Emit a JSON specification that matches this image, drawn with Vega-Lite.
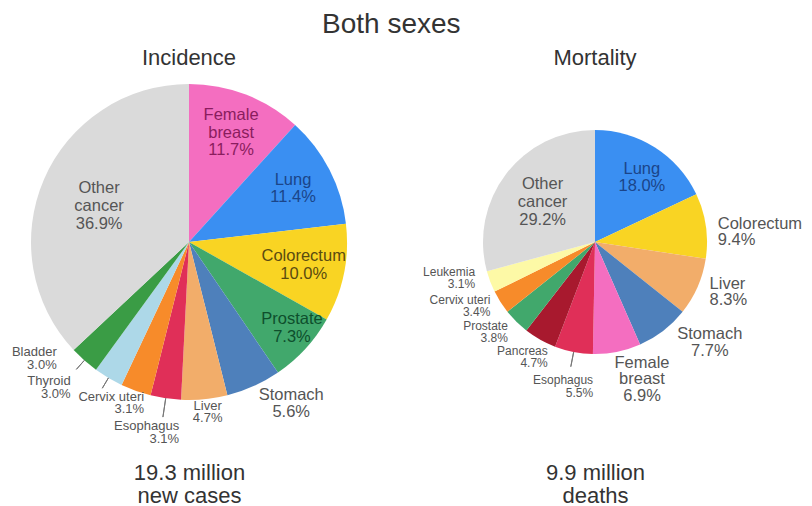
{
  "$schema": "https://vega.github.io/schema/vega-lite/v6.json",
  "padding": {"left": 0, "right": 0, "top": 11, "bottom": 0},
  "background": "white",
  "title": {"text": "Both sexes", "fontSize": 28, "fontWeight": "normal", "color": "#333333", "anchor": "start", "frame": "group", "dx": 322, "offset": 8},
  "spacing": 0,
  "bounds": "flush",
  "config": {"view": {"stroke": null}, "font": "Liberation Sans"},
  "hconcat": [
    {
      "width": 378,
      "height": 326,
      "title": {"text": "Incidence", "fontSize": 22, "fontWeight": "normal", "color": "#333333", "offset": 9},
      "data": {"values": [
        {"cancer": "Female breast", "label": "Female\nbreast", "pct": 11.7},
        {"cancer": "Lung", "label": "Lung", "pct": 11.4},
        {"cancer": "Colorectum", "label": "Colorectum", "pct": 10.0},
        {"cancer": "Prostate", "label": "Prostate", "pct": 7.3},
        {"cancer": "Stomach", "label": "Stomach", "pct": 5.6},
        {"cancer": "Liver", "label": "Liver", "pct": 4.7},
        {"cancer": "Esophagus", "label": "Esophagus", "pct": 3.1},
        {"cancer": "Cervix uteri", "label": "Cervix uteri", "pct": 3.1},
        {"cancer": "Thyroid", "label": "Thyroid", "pct": 3.0},
        {"cancer": "Bladder", "label": "Bladder", "pct": 3.0},
        {"cancer": "Other cancer", "label": "Other\ncancer", "pct": 36.9}
      ]},
      "transform": [
        {"window": [{"op": "row_number", "as": "i"}]},
        {"stack": "pct", "groupby": [], "sort": [{"field": "i", "order": "ascending"}], "as": ["t0", "t1"]},
        {"calculate": "(datum.t0 + datum.t1) / 2", "as": "mid"},
        {"calculate": "datum.label + '\\n' + format(datum.pct, '.1f') + '%'", "as": "text"}
      ],
      "layer": [
        {"mark": {"type": "arc", "outerRadius": 158},
         "encoding": {
           "theta": {"field": "pct", "type": "quantitative", "stack": true},
           "order": {"field": "i", "type": "quantitative"},
           "color": {"field": "cancer", "type": "nominal", "legend": null,
             "scale": {"domain": ["Female breast","Lung","Colorectum","Prostate","Stomach","Liver","Esophagus","Cervix uteri","Thyroid","Bladder","Pancreas","Leukemia","Other cancer"],
                       "range": ["#f46ec0","#3a8ff2","#f9d423","#41a86c","#4e80bb","#f2ad6a","#e02f58","#f78b2a","#add8e8","#3a9c45","#a8192e","#fdf9a6","#dadada"]}}}},
        {"transform": [{"filter": {"field": "cancer", "oneOf": ["Bladder", "Thyroid"]}}],
         "mark": {"type": "arc", "innerRadius": 158, "outerRadius": 170, "fill": null, "stroke": "#777777", "strokeWidth": 1},
         "encoding": {"theta": {"field": "mid", "type": "quantitative"}, "theta2": {"field": "mid"}}},
        {"transform": [{"filter": {"field": "cancer", "equal": "Esophagus"}}],
         "mark": {"type": "arc", "innerRadius": 158, "outerRadius": 177, "fill": null, "stroke": "#777777", "strokeWidth": 1},
         "encoding": {"theta": {"field": "mid", "type": "quantitative"}, "theta2": {"field": "mid"}}},
        {"transform": [{"filter": {"field": "cancer", "equal": "Female breast"}}],
         "mark": {"type": "text", "radius": 117, "dy": -17.5, "align": "center", "baseline": "middle", "fontSize": 16.5, "lineHeight": 17.5, "lineBreak": "\n", "color": "#8a1d5e"},
         "encoding": {"theta": {"field": "mid", "type": "quantitative"}, "text": {"field": "text", "type": "nominal"}}},
        {"transform": [{"filter": {"field": "cancer", "oneOf": ["Lung", "Colorectum"]}}],
         "mark": {"type": "text", "radius": 117, "dy": -8.75, "align": "center", "baseline": "middle", "fontSize": 16.5, "lineHeight": 17.5, "lineBreak": "\n"},
         "encoding": {
           "theta": {"field": "mid", "type": "quantitative"},
           "text": {"field": "text", "type": "nominal"},
           "color": {"condition": {"test": "datum.cancer === 'Lung'", "value": "#1b4589"}, "value": "#5a4b10"}}},
        {"transform": [{"filter": {"field": "cancer", "equal": "Prostate"}}],
         "mark": {"type": "text", "radius": 133, "dx": 5, "dy": -12.75, "align": "center", "baseline": "middle", "fontSize": 16.5, "lineHeight": 17.5, "lineBreak": "\n", "color": "#0e4f2c"},
         "encoding": {"theta": {"field": "mid", "type": "quantitative"}, "text": {"field": "text", "type": "nominal"}}},
        {"transform": [{"filter": {"field": "cancer", "equal": "Other cancer"}}],
         "mark": {"type": "text", "radius": 98, "dy": -15.5, "align": "center", "baseline": "middle", "fontSize": 16.5, "lineHeight": 18, "lineBreak": "\n", "color": "#555555"},
         "encoding": {"theta": {"field": "mid", "type": "quantitative"}, "text": {"field": "text", "type": "nominal"}}},
        {"transform": [{"filter": {"field": "cancer", "equal": "Stomach"}}],
         "mark": {"type": "text", "radius": 191, "dx": 24, "dy": -21.5, "align": "center", "baseline": "middle", "fontSize": 16.5, "lineHeight": 17, "lineBreak": "\n", "color": "#555555"},
         "encoding": {"theta": {"field": "mid", "type": "quantitative"}, "text": {"field": "text", "type": "nominal"}}},
        {"transform": [{"filter": {"field": "cancer", "equal": "Liver"}}],
         "mark": {"type": "text", "radius": 171, "dx": 2, "dy": -6, "align": "center", "baseline": "middle", "fontSize": 13, "lineHeight": 12, "lineBreak": "\n", "color": "#555555"},
         "encoding": {"theta": {"field": "mid", "type": "quantitative"}, "text": {"field": "text", "type": "nominal"}}},
        {"transform": [{"filter": {"field": "cancer", "equal": "Esophagus"}}],
         "mark": {"type": "text", "radius": 189, "dx": 18, "dy": -2.5, "align": "right", "baseline": "middle", "fontSize": 13, "lineHeight": 13, "lineBreak": "\n", "color": "#555555"},
         "encoding": {"theta": {"field": "mid", "type": "quantitative"}, "text": {"field": "text", "type": "nominal"}}},
        {"transform": [{"filter": {"field": "cancer", "equal": "Cervix uteri"}}],
         "mark": {"type": "text", "radius": 169, "dx": 12, "dy": -4, "align": "right", "baseline": "middle", "fontSize": 13, "lineHeight": 12, "lineBreak": "\n", "color": "#555555"},
         "encoding": {"theta": {"field": "mid", "type": "quantitative"}, "text": {"field": "text", "type": "nominal"}}},
        {"transform": [{"filter": {"field": "cancer", "equal": "Thyroid"}}],
         "mark": {"type": "text", "radius": 187, "dx": -23, "dy": -21.5, "align": "right", "baseline": "middle", "fontSize": 13, "lineHeight": 13, "lineBreak": "\n", "color": "#555555"},
         "encoding": {"theta": {"field": "mid", "type": "quantitative"}, "text": {"field": "text", "type": "nominal"}}},
        {"transform": [{"filter": {"field": "cancer", "equal": "Bladder"}}],
         "mark": {"type": "text", "radius": 177, "dx": -15, "dy": -22.5, "align": "right", "baseline": "middle", "fontSize": 13, "lineHeight": 13, "lineBreak": "\n", "color": "#555555"},
         "encoding": {"theta": {"field": "mid", "type": "quantitative"}, "text": {"field": "text", "type": "nominal"}}},
        {"transform": [{"filter": "datum.i === 1"}],
         "mark": {"type": "text", "opacity": 0},
         "encoding": {
           "x": {"datum": 0.5, "type": "quantitative", "scale": {"domain": [0, 1]},
                 "axis": {"title": ["19.3 million", "new cases"], "domain": false, "ticks": false, "labels": false, "grid": false,
                          "titleFontSize": 22, "titleFontWeight": "normal", "titleColor": "#333333", "titlePadding": 57, "titleLineHeight": 23}},
           "text": {"value": " "}}}
      ]
    },
    {
      "width": 434,
      "height": 326,
      "title": {"text": "Mortality", "fontSize": 22, "fontWeight": "normal", "color": "#333333", "offset": 9},
      "data": {"values": [
        {"cancer": "Lung", "label": "Lung", "pct": 18.0},
        {"cancer": "Colorectum", "label": "Colorectum", "pct": 9.4},
        {"cancer": "Liver", "label": "Liver", "pct": 8.3},
        {"cancer": "Stomach", "label": "Stomach", "pct": 7.7},
        {"cancer": "Female breast", "label": "Female\nbreast", "pct": 6.9},
        {"cancer": "Esophagus", "label": "Esophagus", "pct": 5.5},
        {"cancer": "Pancreas", "label": "Pancreas", "pct": 4.7},
        {"cancer": "Prostate", "label": "Prostate", "pct": 3.8},
        {"cancer": "Cervix uteri", "label": "Cervix uteri", "pct": 3.4},
        {"cancer": "Leukemia", "label": "Leukemia", "pct": 3.1},
        {"cancer": "Other cancer", "label": "Other\ncancer", "pct": 29.2}
      ]},
      "transform": [
        {"window": [{"op": "row_number", "as": "i"}]},
        {"stack": "pct", "groupby": [], "sort": [{"field": "i", "order": "ascending"}], "as": ["t0", "t1"]},
        {"calculate": "(datum.t0 + datum.t1) / 2", "as": "mid"},
        {"calculate": "datum.label + '\\n' + format(datum.pct, '.1f') + '%'", "as": "text"}
      ],
      "layer": [
        {"mark": {"type": "arc", "outerRadius": 112},
         "encoding": {
           "theta": {"field": "pct", "type": "quantitative", "stack": true},
           "order": {"field": "i", "type": "quantitative"},
           "color": {"field": "cancer", "type": "nominal", "legend": null,
             "scale": {"domain": ["Female breast","Lung","Colorectum","Prostate","Stomach","Liver","Esophagus","Cervix uteri","Thyroid","Bladder","Pancreas","Leukemia","Other cancer"],
                       "range": ["#f46ec0","#3a8ff2","#f9d423","#41a86c","#4e80bb","#f2ad6a","#e02f58","#f78b2a","#add8e8","#3a9c45","#a8192e","#fdf9a6","#dadada"]}}}},
        {"transform": [{"filter": {"field": "cancer", "equal": "Esophagus"}}],
         "mark": {"type": "arc", "innerRadius": 112, "outerRadius": 127, "fill": null, "stroke": "#777777", "strokeWidth": 1},
         "encoding": {"theta": {"field": "mid", "type": "quantitative"}, "theta2": {"field": "mid"}}},
        {"transform": [{"filter": {"field": "cancer", "equal": "Lung"}}],
         "mark": {"type": "text", "radius": 80, "dx": 4, "dy": -5, "align": "center", "baseline": "middle", "fontSize": 16.5, "lineHeight": 17, "lineBreak": "\n", "color": "#1b4589"},
         "encoding": {"theta": {"field": "mid", "type": "quantitative"}, "text": {"field": "text", "type": "nominal"}}},
        {"transform": [{"filter": {"field": "cancer", "equal": "Other cancer"}}],
         "mark": {"type": "text", "radius": 66, "dy": -18, "align": "center", "baseline": "middle", "fontSize": 16.5, "lineHeight": 18, "lineBreak": "\n", "color": "#555555"},
         "encoding": {"theta": {"field": "mid", "type": "quantitative"}, "text": {"field": "text", "type": "nominal"}}},
        {"transform": [{"filter": {"field": "cancer", "equal": "Colorectum"}}],
         "mark": {"type": "text", "radius": 123, "dx": 1, "dy": -0.5, "align": "left", "baseline": "middle", "fontSize": 16.5, "lineHeight": 16.5, "lineBreak": "\n", "color": "#555555"},
         "encoding": {"theta": {"field": "mid", "type": "quantitative"}, "text": {"field": "text", "type": "nominal"}}},
        {"transform": [{"filter": {"field": "cancer", "equal": "Liver"}}],
         "mark": {"type": "text", "radius": 125, "dy": -8.5, "align": "left", "baseline": "middle", "fontSize": 16.5, "lineHeight": 16.5, "lineBreak": "\n", "color": "#555555"},
         "encoding": {"theta": {"field": "mid", "type": "quantitative"}, "text": {"field": "text", "type": "nominal"}}},
        {"transform": [{"filter": {"field": "cancer", "equal": "Stomach"}}],
         "mark": {"type": "text", "radius": 152, "dx": 22, "dy": -28, "align": "center", "baseline": "middle", "fontSize": 16.5, "lineHeight": 16.5, "lineBreak": "\n", "color": "#555555"},
         "encoding": {"theta": {"field": "mid", "type": "quantitative"}, "text": {"field": "text", "type": "nominal"}}},
        {"transform": [{"filter": {"field": "cancer", "equal": "Female breast"}}],
         "mark": {"type": "text", "radius": 145, "dx": 18.5, "dy": -21.5, "align": "center", "baseline": "middle", "fontSize": 16.5, "lineHeight": 16.5, "lineBreak": "\n", "color": "#555555"},
         "encoding": {"theta": {"field": "mid", "type": "quantitative"}, "text": {"field": "text", "type": "nominal"}}},
        {"transform": [{"filter": {"field": "cancer", "equal": "Esophagus"}}],
         "mark": {"type": "text", "radius": 144, "dx": 25.5, "dy": -3, "align": "right", "baseline": "middle", "fontSize": 12, "lineHeight": 12.5, "lineBreak": "\n", "color": "#555555"},
         "encoding": {"theta": {"field": "mid", "type": "quantitative"}, "text": {"field": "text", "type": "nominal"}}},
        {"transform": [{"filter": {"field": "cancer", "equal": "Pancreas"}}],
         "mark": {"type": "text", "radius": 125, "dx": 14, "dy": 0, "align": "right", "baseline": "middle", "fontSize": 12, "lineHeight": 12.5, "lineBreak": "\n", "color": "#555555"},
         "encoding": {"theta": {"field": "mid", "type": "quantitative"}, "text": {"field": "text", "type": "nominal"}}},
        {"transform": [{"filter": {"field": "cancer", "equal": "Prostate"}}],
         "mark": {"type": "text", "radius": 124, "dy": -4.5, "align": "right", "baseline": "middle", "fontSize": 12, "lineHeight": 12.5, "lineBreak": "\n", "color": "#555555"},
         "encoding": {"theta": {"field": "mid", "type": "quantitative"}, "text": {"field": "text", "type": "nominal"}}},
        {"transform": [{"filter": {"field": "cancer", "equal": "Cervix uteri"}}],
         "mark": {"type": "text", "radius": 124, "dy": -8.5, "align": "right", "baseline": "middle", "fontSize": 12, "lineHeight": 12.5, "lineBreak": "\n", "color": "#555555"},
         "encoding": {"theta": {"field": "mid", "type": "quantitative"}, "text": {"field": "text", "type": "nominal"}}},
        {"transform": [{"filter": {"field": "cancer", "equal": "Leukemia"}}],
         "mark": {"type": "text", "radius": 125, "dx": -3, "dy": -14.5, "align": "right", "baseline": "middle", "fontSize": 12, "lineHeight": 12.5, "lineBreak": "\n", "color": "#555555"},
         "encoding": {"theta": {"field": "mid", "type": "quantitative"}, "text": {"field": "text", "type": "nominal"}}},
        {"transform": [{"filter": "datum.i === 1"}],
         "mark": {"type": "text", "opacity": 0},
         "encoding": {
           "x": {"datum": 0.5, "type": "quantitative", "scale": {"domain": [0, 1]},
                 "axis": {"title": ["9.9 million", "deaths"], "domain": false, "ticks": false, "labels": false, "grid": false,
                          "titleFontSize": 22, "titleFontWeight": "normal", "titleColor": "#333333", "titlePadding": 57, "titleLineHeight": 23}},
           "text": {"value": " "}}}
      ]
    }
  ]
}
